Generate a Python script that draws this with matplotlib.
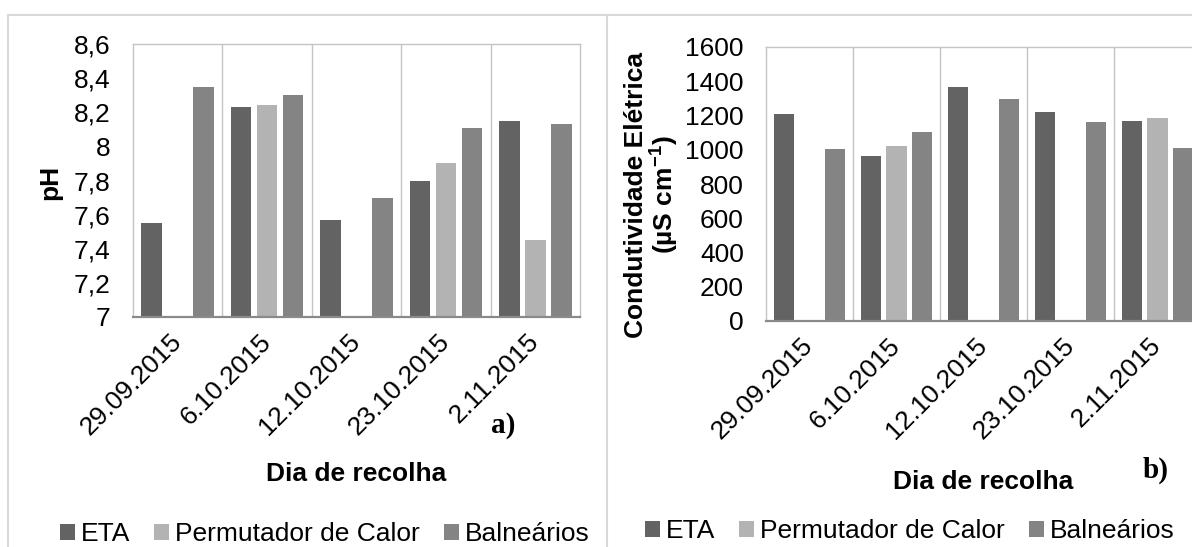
import matplotlib.pyplot as plt
import numpy as np
from matplotlib.lines import Line2D
from matplotlib.patches import Patch

plt.rcParams['font.family'] = ['Liberation Sans', 'DejaVu Sans']
plt.rcParams['mathtext.fontset'] = 'custom'
plt.rcParams['mathtext.rm'] = 'Liberation Sans'
plt.rcParams['mathtext.bf'] = 'Liberation Sans:bold'

# --- data ---
dates = ['29.09.2015', '6.10.2015', '12.10.2015', '23.10.2015', '2.11.2015']
series_names = ['ETA', 'Permutador de Calor', 'Balneários']

ph_eta = [7.55, 8.23, 7.57, 7.80, 8.15]
ph_perm = [np.nan, 8.24, np.nan, 7.90, 7.45]
ph_baln = [8.35, 8.30, 7.70, 8.11, 8.13]

ce_eta = [1210, 962, 1368, 1218, 1168]
ce_perm = [np.nan, 1024, np.nan, np.nan, 1183]
ce_baln = [1006, 1106, 1298, 1164, 1012]

ph_ticks = [7, 7.2, 7.4, 7.6, 7.8, 8, 8.2, 8.4, 8.6]
ce_ticks = [0, 200, 400, 600, 800, 1000, 1200, 1400, 1600]

colors = ['#636363', '#b3b3b3', '#848484']
W, H = 1192, 547
FS = 19


def fig_box(x0, y0, x1, y1):
    # pixel box (top-left origin) -> figure fraction rect
    return [x0 / W, 1 - y1 / H, (x1 - x0) / W, (y1 - y0) / H]


def draw_bars(ax, values, ylim, ticks, fmt):
    x = np.arange(len(dates))
    step, width = 0.29, 0.23
    for i, vals in enumerate(values):
        vals = np.array(vals, dtype=float)
        ax.bar(x + (i - 1) * step, vals - ylim[0], width=width,
               bottom=ylim[0], color=colors[i], zorder=3)
    ax.set_xlim(-0.5, len(dates) - 0.5)
    ax.set_ylim(*ylim)
    ax.set_yticks(ticks)
    ax.set_yticklabels([fmt(t) for t in ticks], fontsize=FS)
    for b in np.arange(0.5, len(dates) - 0.5, 1):
        ax.axvline(b, color='#c4c4c4', lw=1.0, zorder=1)
    ax.set_xticks(x)
    ax.set_xticklabels(dates, rotation=45, ha='right', va='center',
                       rotation_mode='anchor', fontsize=FS)
    ax.tick_params(axis='both', length=0)
    ax.tick_params(axis='y', pad=16)
    ax.tick_params(axis='x', pad=15)
    for side in ['left', 'top', 'right']:
        ax.spines[side].set_color('#c4c4c4')
        ax.spines[side].set_linewidth(1.0)
    ax.spines['bottom'].set_color('#8a8a8a')
    ax.spines['bottom'].set_linewidth(1.6)
    ax.spines['bottom'].set_zorder(4)


def ph_fmt(t):
    return f'{t:g}'.replace('.', ',')


def main():
    fig = plt.figure(figsize=(W / 100, H / 100), dpi=100)

    # --- frame lines of the document table ---
    line_kw = dict(color='#d9d9d9', lw=1.5, transform=fig.transFigure)
    fig.add_artist(Line2D([8 / W, 1], [1 - 15 / H] * 2, **line_kw))
    fig.add_artist(Line2D([8 / W] * 2, [0, 1 - 15 / H], **line_kw))
    fig.add_artist(Line2D([607 / W] * 2, [0, 1 - 15 / H], **line_kw))

    # --- a) pH ---
    ax1 = fig.add_axes(fig_box(133, 44, 580, 317))
    draw_bars(ax1, [ph_eta, ph_perm, ph_baln], (7, 8.6), ph_ticks, ph_fmt)
    fig.text(50 / W, 1 - 182 / H, 'pH', rotation=90, ha='center',
             va='center', fontsize=FS, fontweight='bold')
    fig.text(356 / W, 1 - 481 / H, 'Dia de recolha', ha='center',
             va='baseline', fontsize=FS, fontweight='bold')
    fig.text(503 / W, 1 - 433 / H, 'a)', ha='center', va='baseline',
             fontsize=21, fontweight='bold', family='Liberation Serif')

    # --- b) condutividade ---
    ax2 = fig.add_axes(fig_box(766, 47, 1201, 321))
    draw_bars(ax2, [ce_eta, ce_perm, ce_baln], (0, 1600), ce_ticks,
              lambda t: f'{t:d}')
    fig.text(652 / W, 1 - 195 / H,
             'Condutividade Elétrica\n(µS cm$^{\\mathbf{-1}}$)',
             rotation=90, ha='center', va='center', fontsize=FS,
             fontweight='bold', linespacing=1.0)
    fig.text(983 / W, 1 - 489 / H, 'Dia de recolha', ha='center',
             va='baseline', fontsize=FS, fontweight='bold')
    fig.text(1156 / W, 1 - 478 / H, 'b)', ha='center', va='baseline',
             fontsize=21, fontweight='bold', family='Liberation Serif')

    # --- legends ---
    handles = [Patch(facecolor=c, edgecolor='none') for c in colors]
    leg_kw = dict(ncol=3, frameon=False, fontsize=FS, handlelength=0.55,
                  handleheight=0.55, handletextpad=0.25, columnspacing=0.9,
                  loc='center', borderaxespad=0, borderpad=0)
    fig.legend(handles, series_names, bbox_to_anchor=(325 / W, 1 - 534 / H),
               **leg_kw)
    fig.legend(handles, series_names, bbox_to_anchor=(910 / W, 1 - 531 / H),
               **leg_kw)

    fig.savefig('out.png', dpi=100)


if __name__ == '__main__':
    main()
